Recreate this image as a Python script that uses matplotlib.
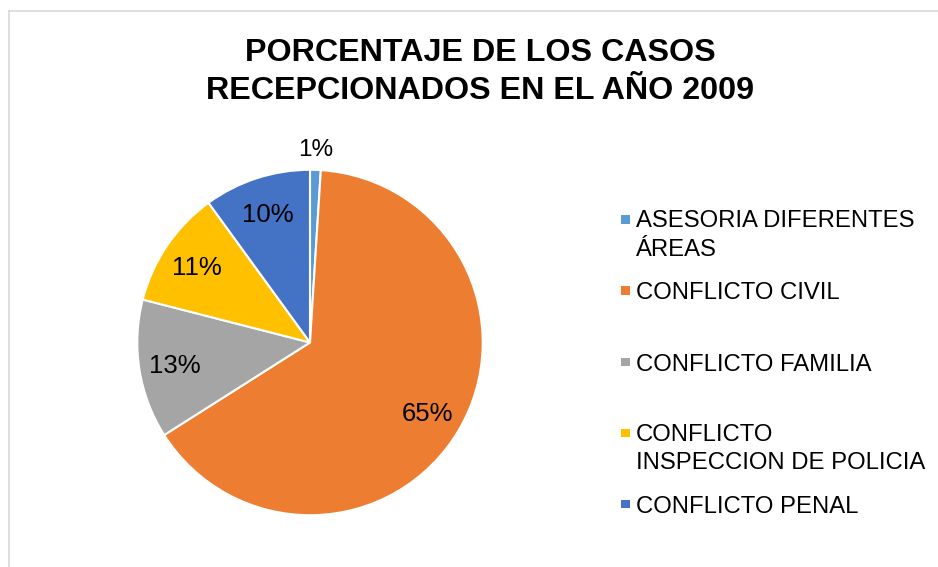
import matplotlib
matplotlib.use("Agg")
from matplotlib import pyplot as plt
from matplotlib.lines import Line2D
from matplotlib.patches import Rectangle
import numpy as np

# datos del gráfico
categorias = ["ASESORIA DIFERENTES\nÁREAS", "CONFLICTO CIVIL", "CONFLICTO FAMILIA",
              "CONFLICTO\nINSPECCION DE POLICIA", "CONFLICTO PENAL"]
porcentajes = [1, 65, 13, 11, 10]
colores = ["#5B9BD5", "#ED7D31", "#A5A5A5", "#FFC000", "#4472C4"]
titulo = "PORCENTAJE DE LOS CASOS\nRECEPCIONADOS EN EL AÑO 2009"

plt.rcParams["font.family"] = ["Liberation Sans", "DejaVu Sans"]

W, H = 938, 567
fig = plt.figure(figsize=(W / 100, H / 100), dpi=100)
fig.patch.set_facecolor("white")

# borde gris del área del gráfico
fig.add_artist(Line2D([9 / W, 1], [1 - 11 / H, 1 - 11 / H], transform=fig.transFigure,
                      color="#D9D9D9", lw=1.2))
fig.add_artist(Line2D([9 / W, 9 / W], [0, 1 - 11 / H], transform=fig.transFigure,
                      color="#D9D9D9", lw=1.2))

cx, cy, r = 310, 342.5, 172.7
ax = fig.add_axes([(cx - r) / W, (H - cy - r) / H, 2 * r / W, 2 * r / H])
wedges, textos, pcts = ax.pie(porcentajes, colors=colores, startangle=90, counterclock=False,
                              autopct="%1.0f%%", pctdistance=0.79,
                              wedgeprops=dict(edgecolor="white", linewidth=1.5),
                              textprops=dict(fontsize=18.5, color="#000000"))
for t in pcts:
    t.set_va("center_baseline")
# la etiqueta pequeña va fuera del sector
w0 = wedges[0]
ang = np.deg2rad((w0.theta1 + w0.theta2) / 2)
pcts[0].set_position((1.13 * np.cos(ang), 1.13 * np.sin(ang)))
pcts[0].set_fontsize(17.5)
ax.set_xlim(-1, 1)
ax.set_ylim(-1, 1)
ax.set_aspect("auto")
ax.axis("off")

# título (va='baseline' se alinea con la última línea)
fig.text(480 / W, 1 - 99 / H, titulo, ha="center", va="baseline", fontsize=23.2,
         fontweight="bold", linespacing=1.35, color="#000000")

# leyenda manual
y0, paso, interlinea = 228.3, 71.15, 27.5
for i, (cat, col) in enumerate(zip(categorias, colores)):
    yb = y0 + i * paso
    n = cat.count("\n")
    fig.add_artist(Rectangle((621 / W, 1 - (yb - 4.5) / H), 8.5 / W, 8.5 / H,
                             transform=fig.transFigure, facecolor=col, edgecolor="none"))
    fig.text(636 / W, 1 - (yb + n * interlinea) / H, cat, ha="left", va="baseline",
             fontsize=17.2, linespacing=1.375, color="#000000")

fig.savefig("out.png", dpi=100)
